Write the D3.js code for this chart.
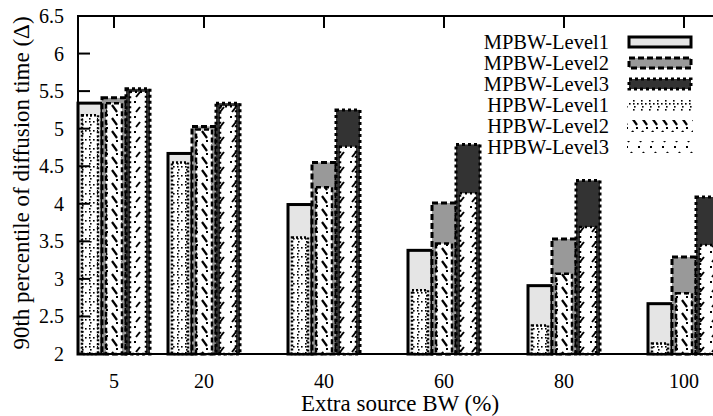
<!DOCTYPE html>
<html>
<head>
<meta charset="utf-8">
<script src="https://cdn.jsdelivr.net/npm/d3@7"></script>
<style>
html,body{margin:0;padding:0;background:#fff;}
svg{display:block;font-family:"Liberation Serif","Times New Roman",serif;}
</style>
</head>
<body>
<svg id="chart" width="713" height="416"></svg>
<script>
const categories = [5, 20, 40, 60, 80, 100];
const mpbwL1 = [5.34, 4.67, 3.99, 3.38, 2.91, 2.67];
const mpbwL2 = [5.41, 5.03, 4.55, 4.01, 3.53, 3.29];
const mpbwL3 = [5.53, 5.34, 5.25, 4.79, 4.31, 4.09];
const hpbwL1 = [5.18, 4.55, 3.55, 2.85, 2.38, 2.14];
const hpbwL2 = [5.34, 4.99, 4.22, 3.47, 3.07, 2.81];
const hpbwL3 = [5.49, 5.30, 4.76, 4.14, 3.69, 3.45];
const yTicks = [2, 2.5, 3, 3.5, 4, 4.5, 5, 5.5, 6, 6.5];
const legendLabels = ["MPBW-Level1","MPBW-Level2","MPBW-Level3","HPBW-Level1","HPBW-Level2","HPBW-Level3"];

(function(){
const svg = d3.select("#chart");
const pL = 78, pT = 16, pB = 354, pR = 714;
const x = d3.scaleLinear().domain([-1, 105]).range([pL, pR]);
const y = d3.scaleLinear().domain([2, 6.5]).range([pB, pT]);
const barW = 4, off = [-4, 0, 4];

// patterns
const defs = svg.append("defs");
const p1 = defs.append("pattern").attr("id","p1").attr("patternUnits","userSpaceOnUse").attr("width",8).attr("height",9);
p1.append("rect").attr("width",8).attr("height",9).attr("fill","#fff");
[[1,1],[5,4],[2,7],[1,4]].forEach(d=>p1.append("rect").attr("x",d[0]).attr("y",d[1]).attr("width",1.6).attr("height",1.6).attr("fill","#000"));
const p2 = defs.append("pattern").attr("id","p2").attr("patternUnits","userSpaceOnUse").attr("width",10).attr("height",13);
p2.append("rect").attr("width",10).attr("height",13).attr("fill","#fff");
p2.append("line").attr("x1",2).attr("y1",1).attr("x2",7).attr("y2",8).attr("stroke","#000").attr("stroke-width",2.2);
p2.append("rect").attr("x",6).attr("y",10).attr("width",2).attr("height",2).attr("fill","#000");
const p3 = defs.append("pattern").attr("id","p3").attr("patternUnits","userSpaceOnUse").attr("width",12).attr("height",15);
p3.append("rect").attr("width",12).attr("height",15).attr("fill","#fff");
p3.append("line").attr("x1",8).attr("y1",2).attr("x2",4).attr("y2",7).attr("stroke","#000").attr("stroke-width",2);
p3.append("rect").attr("x",2).attr("y",11).attr("width",2).attr("height",2).attr("fill","#000");

const mStyles = [
  {fill:"#e5e5e5", dash:null},
  {fill:"#999999", dash:"6,3"},
  {fill:"#333333", dash:"3,3"}
];
const hStyles = [
  {fill:"url(#p1)", dash:"2,2"},
  {fill:"url(#p2)", dash:"5,3"},
  {fill:"url(#p3)", dash:"2,3"}
];

// bottom ticks (behind bars)
svg.append("g").selectAll("line").data(categories).join("line")
  .attr("x1",d=>x(d)).attr("x2",d=>x(d)).attr("y1",pB).attr("y2",pB-11)
  .attr("stroke","#000").attr("stroke-width",2);

const mSeries = [mpbwL1, mpbwL2, mpbwL3];
const hSeries = [hpbwL1, hpbwL2, hpbwL3];
const plot = svg.append("g");
mSeries.forEach((s,i)=>{
  plot.append("g").selectAll("rect").data(categories).join("rect")
    .attr("x",(d)=>x(d+off[i]-barW/2))
    .attr("width",(d)=>x(d+off[i]+barW/2)-x(d+off[i]-barW/2))
    .attr("y",(d,j)=>y(s[j]))
    .attr("height",(d,j)=>y(2)-y(s[j]))
    .attr("fill",mStyles[i].fill).attr("stroke","#000").attr("stroke-width",3)
    .attr("stroke-dasharray",mStyles[i].dash);
});
hSeries.forEach((s,i)=>{
  plot.append("g").selectAll("rect").data(categories).join("rect")
    .attr("x",(d)=>x(d+off[i]-barW/2)+4)
    .attr("width",(d)=>x(d+off[i]+barW/2)-x(d+off[i]-barW/2)-8)
    .attr("y",(d,j)=>y(s[j]))
    .attr("height",(d,j)=>y(2)-y(s[j]))
    .attr("fill",hStyles[i].fill).attr("stroke","#000").attr("stroke-width",2.5)
    .attr("stroke-dasharray",hStyles[i].dash);
});

// frame
svg.append("path").attr("d",`M${pR},${pT}H${pL}V${pB}H${pR}`)
  .attr("fill","none").attr("stroke","#000").attr("stroke-width",2);

// y ticks
svg.append("g").selectAll("line").data(yTicks).join("line")
  .attr("x1",pL).attr("x2",pL+12).attr("y1",d=>y(d)).attr("y2",d=>y(d))
  .attr("stroke","#000").attr("stroke-width",2);
svg.append("g").selectAll("text").data(yTicks).join("text")
  .attr("x",64).attr("y",d=>y(d)+7).attr("text-anchor","end")
  .attr("font-size",20).text(d=>d);
// top ticks
svg.append("g").selectAll("line").data(categories).join("line")
  .attr("x1",d=>x(d)).attr("x2",d=>x(d)).attr("y1",pT).attr("y2",pT+12)
  .attr("stroke","#000").attr("stroke-width",2);
// x labels
svg.append("g").selectAll("text").data(categories).join("text")
  .attr("x",d=>x(d)).attr("y",388).attr("text-anchor","middle")
  .attr("font-size",20).text(d=>d);

svg.append("text").attr("x",400).attr("y",411).attr("text-anchor","middle")
  .attr("font-size",23).text("Extra source BW (%)");
svg.append("text").attr("transform","translate(29,183) rotate(-90)").attr("text-anchor","middle")
  .attr("font-size",23).text("90th percentile of diffusion time (Δ)");

// legend
const lg = svg.append("g");
legendLabels.forEach((lab,i)=>{
  const cy = 42 + i*21;
  lg.append("text").attr("x",609).attr("y",cy+7).attr("text-anchor","end").attr("font-size",20.5).text(lab);
  if(i<3){
    lg.append("rect").attr("x",629).attr("y",cy-5).attr("width",62).attr("height",10)
      .attr("fill",mStyles[i].fill).attr("stroke","#000").attr("stroke-width",3).attr("stroke-dasharray",mStyles[i].dash);
  } else {
    lg.append("rect").attr("x",627).attr("y",cy-6).attr("width",66).attr("height",12)
      .attr("fill",hStyles[i-3].fill);
  }
});
})();
</script>
</body>
</html>
